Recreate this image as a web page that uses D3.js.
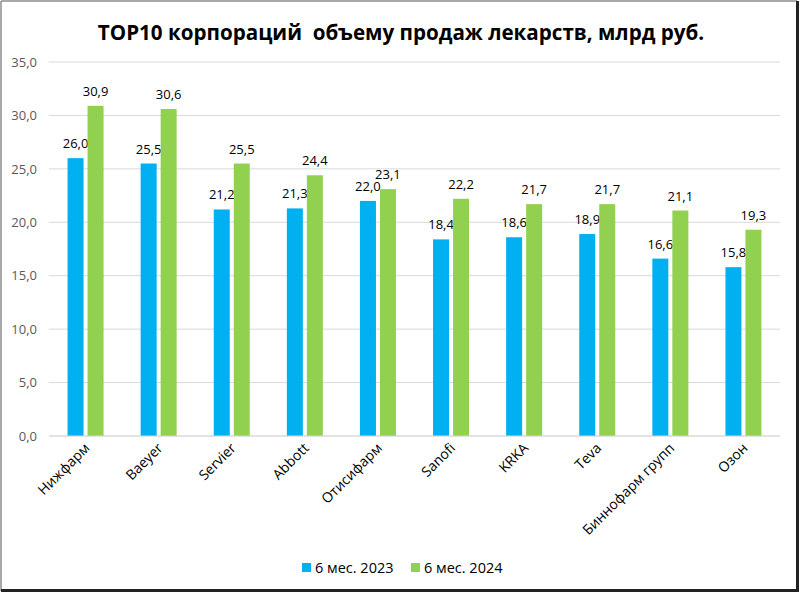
<!DOCTYPE html>
<html><head><meta charset="utf-8">
<script src="https://cdn.jsdelivr.net/npm/d3@7"></script>
<style>
html,body{margin:0;padding:0;background:#fff;}
text{font-family:"Open Sans","Liberation Sans",sans-serif;}
</style></head>
<body><svg id="c" width="800" height="594"></svg>
<script>
const categories = ["Нижфарм","Baeyer","Servier","Abbott","Отисифарм","Sanofi","KRKA","Teva","Биннофарм групп","Озон"];
const series2023 = [26.0,25.5,21.2,21.3,22.0,18.4,18.6,18.9,16.6,15.8];
const series2024 = [30.9,30.6,25.5,24.4,23.1,22.2,21.7,21.7,21.1,19.3];
const seriesNames = ["6 мес. 2023","6 мес. 2024"];
const colors = ["#00B0F0","#92D050"];
const yTicks = [0,5,10,15,20,25,30,35];
const title = "TOP10 корпораций  объему продаж лекарств, млрд руб.";

(function(){
const svg = d3.select("#c");
const W=800,H=594;
const pL=49,pR=780,pT=62,pB=436;
const fmt = v => d3.format(".1f")(v).replace(".",",");

svg.append("rect").attr("x",0).attr("y",0).attr("width",W).attr("height",H).attr("fill","#fff");

const x = d3.scaleBand().domain(categories).range([pL,pR]);
const y = d3.scaleLinear().domain([0,35]).range([pB,pT]);

svg.append("g").selectAll("line").data(yTicks).join("line")
  .attr("x1",pL).attr("x2",pR)
  .attr("y1",d=>y(d)).attr("y2",d=>y(d))
  .attr("stroke","#d9d9d9").attr("stroke-width",1);

const yAxis = d3.axisLeft(y).tickValues(yTicks).tickFormat(fmt).tickSize(0).tickPadding(12);
const ga = svg.append("g").attr("transform",`translate(${pL},0)`).call(yAxis);
ga.select(".domain").remove();
ga.selectAll("text").attr("fill","#595959").style("font-size","13px").style("font-family","'Open Sans',sans-serif");

const bw=16, gap=4;
const data = [series2023,series2024];
data.forEach((s,si)=>{
  const g = svg.append("g");
  const cx = c => x(c)+x.bandwidth()/2 + (si===0 ? -(gap/2+bw) : gap/2);
  g.selectAll("rect").data(s).join("rect")
    .attr("x",(d,i)=>cx(categories[i]))
    .attr("y",d=>y(d)).attr("width",bw).attr("height",d=>y(0)-y(d))
    .attr("fill",colors[si]);
  g.selectAll("text").data(s).join("text")
    .attr("x",(d,i)=>cx(categories[i])+bw/2)
    .attr("y",d=>y(d)-10)
    .attr("text-anchor","middle").attr("fill","#000")
    .style("font-size","13px").text(d=>fmt(d));
});

svg.append("line").attr("x1",pL).attr("x2",pR).attr("y1",y(0)).attr("y2",y(0)).attr("stroke","#d9d9d9");

svg.append("g").selectAll("text").data(categories).join("text")
  .attr("transform",d=>`translate(${x(d)+x.bandwidth()/2+5},${pB+13}) rotate(-45)`)
  .attr("text-anchor","end").attr("fill","#000")
  .style("font-size","14px").text(d=>d);

svg.append("text").attr("x",401).attr("y",40).attr("text-anchor","middle")
  .style("font-size","20.6px").style("font-weight","bold").style("white-space","pre")
  .attr("fill","#000").text(title);

const lg = svg.append("g");
const lx=[302,411];
seriesNames.forEach((n,i)=>{
  lg.append("rect").attr("x",lx[i]).attr("y",563).attr("width",9).attr("height",9).attr("fill",colors[i]);
  lg.append("text").attr("x",lx[i]+13).attr("y",573).style("font-size","14.5px").attr("fill","#000").text(n);
});

svg.append("line").attr("x1",1).attr("x2",1).attr("y1",1).attr("y2",591).attr("stroke","#8c8c8c").attr("stroke-width",1.5);
svg.append("line").attr("x1",1).attr("x2",797).attr("y1",1).attr("y2",1).attr("stroke","#8c8c8c").attr("stroke-width",1.5);
svg.append("line").attr("x1",797.5).attr("x2",797.5).attr("y1",1).attr("y2",592).attr("stroke","#222").attr("stroke-width",3);
svg.append("line").attr("x1",1).attr("x2",799).attr("y1",590.5).attr("y2",590.5).attr("stroke","#222").attr("stroke-width",3);
})();
</script></body></html>
